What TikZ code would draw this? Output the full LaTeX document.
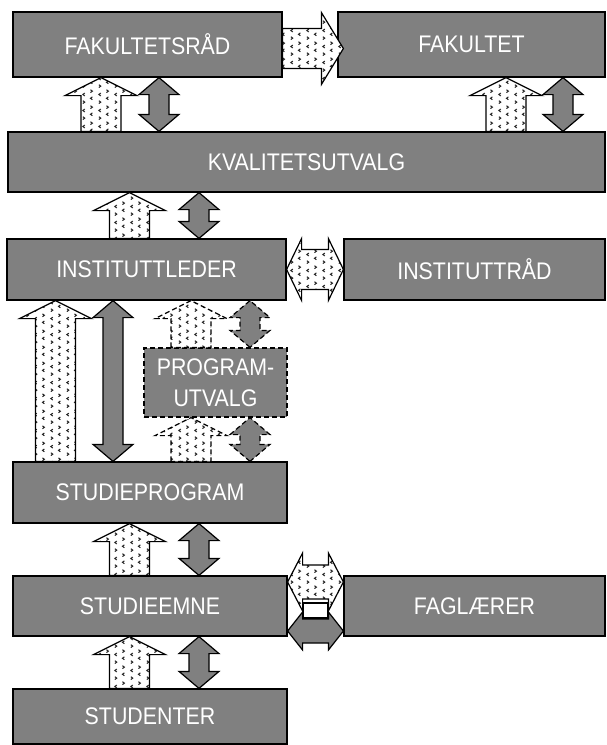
\documentclass[tikz,border=0pt]{standalone}
\usepackage{fontspec}
\newfontfamily\boxfont[FakeStretch=0.89]{Liberation Sans}
\usetikzlibrary{calc}
\usetikzlibrary{patterns}
\definecolor{boxgray}{gray}{0.5}
\pgfdeclarepatternformonly{chevr}{\pgfpointorigin}{\pgfpoint{16pt}{16pt}}{\pgfpoint{16pt}{16pt}}{%
  \pgfsetlinewidth{1.1pt}
  \pgfpathmoveto{\pgfpoint{3pt}{1.5pt}}\pgfpathlineto{\pgfpoint{5pt}{3pt}}\pgfpathlineto{\pgfpoint{3pt}{4.5pt}}
  \pgfpathmoveto{\pgfpoint{13pt}{5.5pt}}\pgfpathlineto{\pgfpoint{11pt}{7pt}}\pgfpathlineto{\pgfpoint{13pt}{8.5pt}}
  \pgfpathmoveto{\pgfpoint{5pt}{9.5pt}}\pgfpathlineto{\pgfpoint{3pt}{11pt}}\pgfpathlineto{\pgfpoint{5pt}{12.5pt}}
  \pgfpathmoveto{\pgfpoint{11pt}{13pt}}\pgfpathlineto{\pgfpoint{13pt}{14.5pt}}\pgfpathlineto{\pgfpoint{11pt}{16pt}}
  \pgfusepath{stroke}}
\tikzset{%
  box/.style = {draw,fill=boxgray,line width=1.2pt,text=white,inner sep=0pt,
        font={\boxfont\fontsize{24}{31}\selectfont},align=center},
  stripe/.style = {draw,line width=1.2pt,preaction={fill=white},
        pattern=chevr,pattern color=black!85},
  darkarr/.style = {draw,fill=boxgray,line width=1.2pt},
  dashbox/.style = {dash pattern=on 5pt off 3pt}
}
% block arrows between two anchors
\newcommand\stripeup[4][]{\draw[stripe,#1] let \p1=(#2,0 |- #3), \p2=(#2,0 |- #4) in
  (\x1-20pt,\y1) -- (\x1-20pt,\y2-18pt) -- (\x1-36pt,\y2-18pt) -- (\x1,\y2)
  -- (\x1+36pt,\y2-18pt) -- (\x1+20pt,\y2-18pt) -- (\x1+20pt,\y1) -- cycle;}
\newcommand\darkupdown[4][]{\draw[darkarr,#1] let \p1=(#2,0 |- #3), \p2=(#2,0 |- #4) in
  (\x1,\y1) -- (\x1-20pt,\y1+17pt) -- (\x1-10pt,\y1+17pt) -- (\x1-10pt,\y2-17pt)
  -- (\x1-20pt,\y2-17pt) -- (\x1,\y2) -- (\x1+20pt,\y2-17pt) -- (\x1+10pt,\y2-17pt)
  -- (\x1+10pt,\y1+17pt) -- (\x1+20pt,\y1+17pt) -- cycle;}
\newcommand\lrarrow[5][]{\draw[#1] let \p1=(#2), \p2=(#3) in
  (\x1,\y1) -- (\x1+15pt,\y1+#4) -- (\x1+15pt,\y1+#5) -- (\x2-15pt,\y1+#5)
  -- (\x2-15pt,\y1+#4) -- (\x2,\y1) -- (\x2-15pt,\y1-#4) -- (\x2-15pt,\y1-#5)
  -- (\x1+15pt,\y1-#5) -- (\x1+15pt,\y1-#4) -- cycle;}

\begin{document}
\begin{tikzpicture}[x=1pt,y=-1pt]
    \useasboundingbox (0,0) rectangle (606,745);
    % boxes
    \node[box,minimum width=269,minimum height=65] (fakr) at (147.5,44.5) {FAKULTETSRÅD};
    \node[box,minimum width=267,minimum height=65] (fak) at (471.5,44.5) {FAKULTET};
    \node[box,minimum width=597,minimum height=60] (kval) at (306.5,162) {KVALITETSUTVALG};
    \node[box,minimum width=279,minimum height=61] (instl) at (146.5,269.5) {INSTITUTTLEDER};
    \node[box,minimum width=261,minimum height=61] (instr) at (474.5,269.5) {INSTITUTTRÅD};
    \node[box,dashbox,minimum width=143,minimum height=69] (prog) at (215.5,382.5) {PROGRAM-\\UTVALG};
    \node[box,minimum width=274,minimum height=61] (stdp) at (150,492.5) {STUDIEPROGRAM};
    \node[box,minimum width=274,minimum height=60] (stde) at (150,606) {STUDIEEMNE};
    \node[box,minimum width=261,minimum height=60] (fagl) at (474.5,606) {FAGLÆRER};
    \node[box,minimum width=274,minimum height=55] (stud) at (150,716.5) {STUDENTER};

    % fakultetsraad -> fakultet
    \draw[stripe] let \p1=([yshift=-4pt]fakr.east), \p2=([xshift=6pt]fak.west) in
        (\x1,\y1+20pt) -- (\x2-22pt,\y1+20pt) -- (\x2-22pt,\y1+36pt) -- (\x2,\y1)
        -- (\x2-22pt,\y1-36pt) -- (\x2-22pt,\y1-20pt) -- (\x1,\y1-20pt) -- cycle;

    \stripeup{101}{kval.north}{fakr.south}
    \darkupdown{159}{kval.north}{fakr.south}
    \stripeup{506}{kval.north}{fak.south}
    \darkupdown{563}{kval.north}{fak.south}

    \stripeup{129.5}{instl.north}{kval.south}
    \darkupdown{199}{instl.north}{kval.south}
    \lrarrow[stripe]{instl.east}{instr.west}{31pt}{20pt}

    \stripeup{55.5}{stdp.north}{instl.south}
    \darkupdown{113}{stdp.north}{instl.south}
    \stripeup[dashbox]{191}{prog.north}{instl.south}
    \darkupdown[dashbox]{250}{prog.north}{instl.south}
    \stripeup[dashbox]{191}{stdp.north}{prog.south}
    \darkupdown[dashbox]{250}{stdp.north}{prog.south}

    \stripeup{129.5}{stde.north}{stdp.south}
    \darkupdown{199}{stde.north}{stdp.south}
    \stripeup{129.5}{stud.north}{stde.south}
    \darkupdown{199}{stud.north}{stde.south}

    % studieemne <-> faglaerer
    \lrarrow[stripe]{[yshift=24pt]stde.east}{[yshift=24pt]fagl.west}{29pt}{17pt}
    \lrarrow[darkarr]{[yshift=-25pt]stde.east}{[yshift=-25pt]fagl.west}{19pt}{12pt}
    \node[draw,fill=white,line width=1.2pt,minimum width=25,minimum height=15,inner sep=0pt]
        (notch) at (315.5,610.5) {};
\end{tikzpicture}
\end{document}
